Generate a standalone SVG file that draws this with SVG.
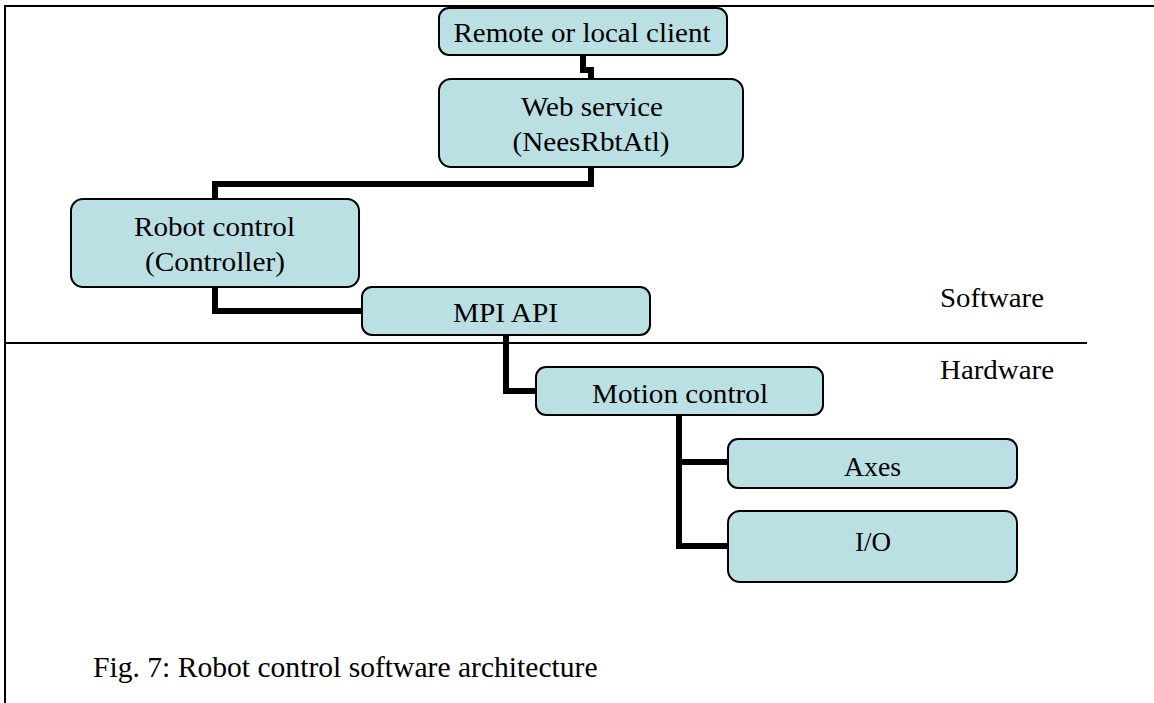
<svg xmlns="http://www.w3.org/2000/svg" width="1154" height="703" viewBox="0 0 1154 703">
<style>
.box{fill:#bae0e3;stroke:#000;stroke-width:2}
.lbl{font-family:"Liberation Serif","Times New Roman",serif;font-size:28px;fill:#000;text-anchor:middle}
.txt{font-family:"Liberation Serif","Times New Roman",serif;font-size:28px;fill:#000}
.cap{font-family:"Liberation Serif","Times New Roman",serif;font-size:29.6px;fill:#000}
.conn{fill:none;stroke:#000;stroke-width:6;stroke-linejoin:miter}
.frame{fill:none;stroke:#000;stroke-width:2}
</style>
<rect width="1154" height="703" fill="#fff"/>
<g id="frame">
<path class="frame" d="M1154 6 H5 V703"/>
<path class="frame" d="M5 343 H1087"/>
</g>
<g id="connectors">
<path class="conn" d="M583 55 V70 H591 V79"/>
<path class="conn" d="M591 167 V184 H215 V199"/>
<path class="conn" d="M215 287 V311 H362"/>
<path class="conn" d="M506 335 V391 H536"/>
<path class="conn" d="M679 415 V546 H728"/>
<path class="conn" d="M679 462 H728"/>
</g>
<g id="client">
<rect class="box" x="439" y="8" width="288" height="47" rx="10"/>
<text class="lbl" x="582" y="42" textLength="257" lengthAdjust="spacingAndGlyphs">Remote or local client</text>
</g>
<g id="webservice">
<rect class="box" x="439" y="79" width="304" height="88" rx="12"/>
<text class="lbl" x="592" y="116" textLength="142" lengthAdjust="spacingAndGlyphs">Web service</text>
<text class="lbl" x="591" y="151" textLength="157" lengthAdjust="spacingAndGlyphs">(NeesRbtAtl)</text>
</g>
<g id="robotcontrol">
<rect class="box" x="71" y="199" width="288" height="88" rx="12"/>
<text class="lbl" x="214.5" y="236" textLength="161" lengthAdjust="spacingAndGlyphs">Robot control</text>
<text class="lbl" x="215" y="271" textLength="140" lengthAdjust="spacingAndGlyphs">(Controller)</text>
</g>
<g id="mpiapi">
<rect class="box" x="362" y="287" width="288" height="48" rx="10"/>
<text class="lbl" x="505.5" y="322" textLength="105" lengthAdjust="spacingAndGlyphs">MPI API</text>
</g>
<g id="motion">
<rect class="box" x="536" y="367" width="287" height="48" rx="10"/>
<text class="lbl" x="680" y="403" textLength="176" lengthAdjust="spacingAndGlyphs">Motion control</text>
</g>
<g id="axes">
<rect class="box" x="728" y="439" width="289" height="49" rx="10"/>
<text class="lbl" x="872.5" y="476" textLength="57" lengthAdjust="spacingAndGlyphs">Axes</text>
</g>
<g id="io">
<rect class="box" x="728" y="511" width="289" height="71" rx="12"/>
<text class="lbl" x="873" y="551" textLength="36" lengthAdjust="spacingAndGlyphs">I/O</text>
</g>
<g id="labels">
<text class="txt" x="940" y="307" textLength="104" lengthAdjust="spacingAndGlyphs">Software</text>
<text class="txt" x="940" y="379" textLength="114" lengthAdjust="spacingAndGlyphs">Hardware</text>
<text class="cap" x="93" y="677">Fig. 7: Robot control software architecture</text>
</g>
</svg>
